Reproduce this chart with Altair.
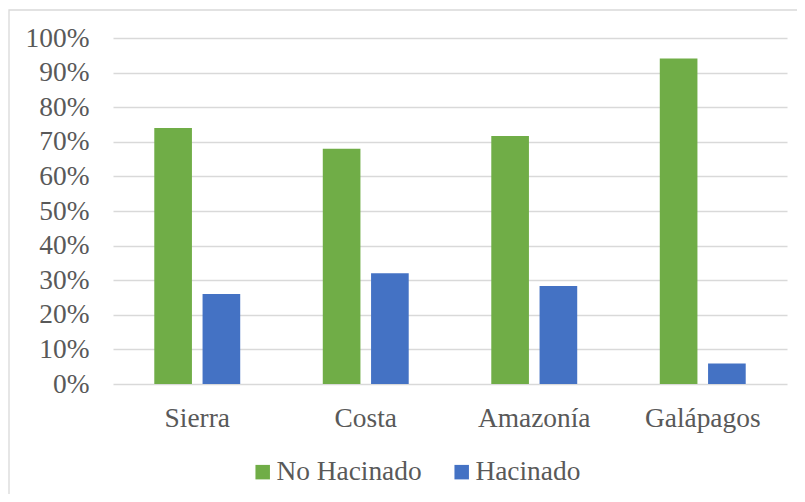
import altair as alt
import pandas as pd

regions = ["Sierra", "Costa", "Amazonía", "Galápagos"]
series = ["No Hacinado", "Hacinado"]
no_hacinado = [74.0, 68.0, 71.7, 94.1]
hacinado = [26.0, 32.0, 28.3, 5.9]
colors = ["#70AD47", "#4472C4"]
y_ticks = [0, 10, 20, 30, 40, 50, 60, 70, 80, 90, 100]

rows = []
for i, r in enumerate(regions):
    rows.append({"region": r, "serie": series[0], "valor": no_hacinado[i] / 100})
    rows.append({"region": r, "serie": series[1], "valor": hacinado[i] / 100})
df = pd.DataFrame(rows)

FONT = "'Times New Roman', 'Liberation Serif', serif"
TXT = "#595959"
FS = 27.4

bars = alt.Chart(df).mark_bar().encode(
    x=alt.X(
        "region:N",
        sort=regions,
        scale=alt.Scale(paddingInner=0.49, paddingOuter=0.245),
        axis=alt.Axis(
            title=None, labelAngle=0, domain=False, ticks=False, grid=False,
            labelPadding=20, labelFontSize=FS, labelFont=FONT, labelColor=TXT,
        ),
    ),
    xOffset=alt.XOffset(
        "serie:N", sort=series, scale=alt.Scale(paddingInner=0.22, paddingOuter=0)
    ),
    y=alt.Y(
        "valor:Q",
        scale=alt.Scale(domain=[0, 1], nice=False),
        axis=alt.Axis(
            title=None, format=".0%", values=[v / 100 for v in y_ticks],
            domain=False, ticks=False, tickSize=0, labelPadding=24,
            labelFontSize=FS, labelFont=FONT, labelColor=TXT,
            gridColor="#D9D9D9", gridWidth=1.3,
        ),
    ),
    color=alt.Color(
        "serie:N",
        sort=series,
        scale=alt.Scale(domain=series, range=colors),
        legend=alt.Legend(
            title=None, orient="none", direction="horizontal",
            legendX=136, legendY=420,
            symbolType="square", symbolSize=210, symbolStrokeWidth=0,
            labelFontSize=FS, labelFont=FONT, labelColor=TXT,
            labelOffset=0, columnPadding=26,
        ),
    ),
)

border = alt.Chart(alt.Data(values=[{}])).mark_rect(
    fill=None, stroke="#D9D9D9", strokeWidth=1.3
).encode(
    x=alt.value(-104), x2=alt.value(800), y=alt.value(-28), y2=alt.value(600)
)

chart = alt.layer(border, bars).properties(
    width=674,
    height=346,
    padding={"left": 105, "top": 30, "right": 10, "bottom": 110},
    autosize=alt.AutoSizeParams(type="none"),
    background="white",
).configure_view(strokeWidth=0)

chart.save("out.html", embed_options={"renderer": "svg", "actions": False})
